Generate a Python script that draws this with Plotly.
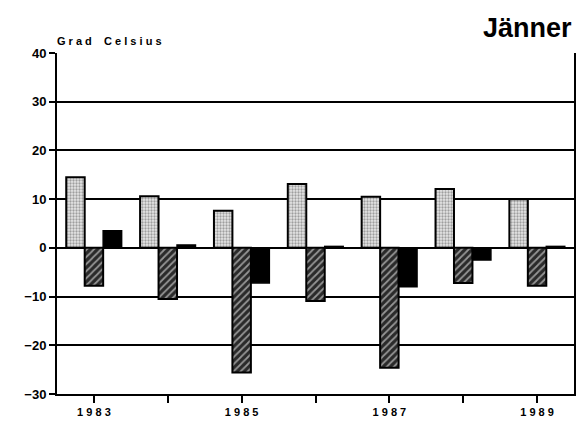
import plotly.graph_objects as go

years = ["1983", "1984", "1985", "1986", "1987", "1988", "1989"]
tick_labels = ["1 9 8 3", "", "1 9 8 5", "", "1 9 8 7", "", "1 9 8 9"]
t_max = [14.5, 10.6, 7.6, 13.1, 10.5, 12.1, 10.0]
t_min = [-7.8, -10.5, -25.6, -10.9, -24.6, -7.2, -7.8]
t_mean = [3.5, 0.6, -7.2, 0.3, -8.0, -2.5, 0.3]
y_ticks = [-30, -20, -10, 0, 10, 20, 30, 40]

fig = go.Figure()
fig.add_trace(go.Bar(
    x=years, y=t_max, name="Maximum",
    marker=dict(color="white", line=dict(color="black", width=2),
                pattern=dict(shape=".", fgcolor="#555555", bgcolor="#e6e6e6", size=3, solidity=0.45)),
))
fig.add_trace(go.Bar(
    x=years, y=t_min, name="Minimum",
    marker=dict(color="white", line=dict(color="black", width=2),
                pattern=dict(shape="/", fgcolor="white", bgcolor="#2a2a2a", size=5, solidity=0.35)),
))
fig.add_trace(go.Bar(
    x=years, y=t_mean, name="Mittel",
    marker=dict(color="black", line=dict(color="black", width=1.5)),
))

font_family = "Liberation Sans, Arial, sans-serif"
fig.update_layout(
    width=578, height=426,
    margin=dict(l=57, r=2, t=53, b=32),
    paper_bgcolor="white", plot_bgcolor="white",
    barmode="group", bargap=0.25, bargroupgap=0,
    showlegend=False,
    font=dict(family=font_family, color="black"),
)
fig.update_xaxes(
    tickmode="array", tickvals=years, ticktext=tick_labels,
    ticks="outside", ticklen=7, tickwidth=1.5, tickcolor="black",
    showline=True, linecolor="black", linewidth=2,
    showgrid=False,
    tickfont=dict(size=11, family=font_family, color="black", weight="bold"),
)
fig.update_yaxes(
    range=[-30, 40], tickmode="array", tickvals=y_ticks,
    ticks="outside", ticklen=6, tickwidth=1.5, tickcolor="black",
    showline=True, linecolor="black", linewidth=2, mirror=True,
    showgrid=True, gridcolor="black", gridwidth=2,
    zeroline=True, zerolinecolor="black", zerolinewidth=2,
    tickfont=dict(size=13, family=font_family, color="black", weight="bold"),
)
fig.add_annotation(
    text="G r a d  &nbsp; C e l s i u s", xref="paper", yref="paper", x=-0.004, y=1.0,
    xanchor="left", yanchor="bottom", yshift=4, showarrow=False,
    font=dict(size=11, family=font_family, color="black", weight="bold"),
)
fig.add_annotation(
    text="<b>Jänner</b>", xref="paper", yref="paper", x=1.0, y=1.0,
    xanchor="right", yanchor="bottom", yshift=8, showarrow=False,
    font=dict(size=27, family=font_family, color="black"),
)
fig.write_html("out.html", config={"displayModeBar": False},
               post_script="document.body.style.margin='0';")
